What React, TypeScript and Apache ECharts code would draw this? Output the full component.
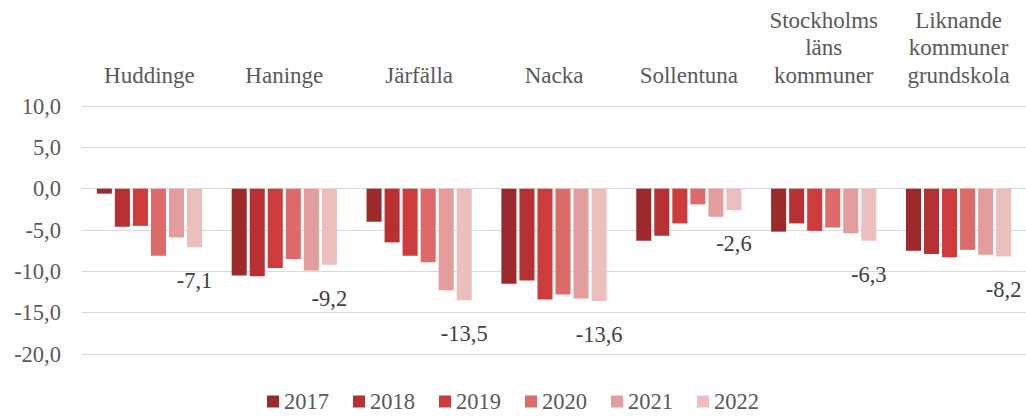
import React, { useEffect, useRef } from "react";
import * as echarts from "echarts";

const categories = [
  "Huddinge",
  "Haninge",
  "Järfälla",
  "Nacka",
  "Sollentuna",
  "Stockholms\nläns\nkommuner",
  "Liknande\nkommuner\ngrundskola",
];
const years = ["2017", "2018", "2019", "2020", "2021", "2022"];
const v2017 = [-0.6, -10.5, -4.0, -11.5, -6.3, -5.2, -7.5];
const v2018 = [-4.6, -10.6, -6.5, -11.1, -5.7, -4.2, -7.9];
const v2019 = [-4.5, -9.6, -8.1, -13.4, -4.2, -5.1, -8.3];
const v2020 = [-8.1, -8.5, -8.9, -12.8, -1.9, -4.7, -7.4];
const v2021 = [-5.9, -9.9, -12.3, -13.3, -3.4, -5.4, -8.0];
const v2022 = [-7.1, -9.2, -13.5, -13.6, -2.6, -6.3, -8.2];
const seriesValues = [v2017, v2018, v2019, v2020, v2021, v2022];
const colors = ["#9C2A2C", "#B73134", "#CD3B3C", "#DD6B6B", "#E39D9D", "#ECBFBF"];

const FONT = "'Liberation Serif', 'Times New Roman', serif";
const TXT = "#595959";
const fmt = (v: number) => v.toFixed(1).replace(".", ",");

export default function App() {
  const ref = useRef<HTMLDivElement>(null);
  useEffect(() => {
    if (!ref.current) return;
    const chart = echarts.init(ref.current, undefined, { renderer: "svg" });
    chart.setOption({
      animation: false,
      textStyle: { fontFamily: FONT },
      grid: { left: 82, right: 0, top: 106, bottom: 62 },
      legend: {
        bottom: -2,
        left: "center",
        itemWidth: 12,
        itemHeight: 12,
        itemGap: 24,
        icon: "rect",
        textStyle: { fontFamily: FONT, fontSize: 22.5, color: TXT },
        data: years,
      },
      xAxis: {
        type: "category",
        position: "top",
        data: categories,
        axisLine: { show: false },
        axisTick: { show: false },
        axisLabel: {
          interval: 0,
          margin: 17,
          fontFamily: FONT,
          fontSize: 23,
          color: TXT,
          lineHeight: 27.5,
        },
      },
      yAxis: {
        type: "value",
        min: -20,
        max: 10,
        interval: 5,
        axisLine: { show: false },
        axisTick: { show: false },
        splitLine: { lineStyle: { color: "#D9D9D9", width: 1 } },
        axisLabel: {
          margin: 21,
          fontFamily: FONT,
          fontSize: 22.5,
          color: TXT,
          formatter: (v: number) => fmt(v),
        },
      },
      series: years.map((y, i) => ({
        name: y,
        type: "bar",
        data: seriesValues[i],
        barGap: "20%",
        barCategoryGap: "22%",
        itemStyle: { color: colors[i] },
        label:
          i === years.length - 1
            ? {
                show: true,
                position: "bottom",
                distance: 22,
                fontFamily: FONT,
                fontSize: 22.5,
                color: "#404040",
                formatter: (p: any) => fmt(p.value),
              }
            : { show: false },
      })),
    });
    return () => chart.dispose();
  }, []);
  return (
    <div
      ref={ref}
      style={{ position: "fixed", left: 0, top: 0, width: 1026, height: 416, background: "#fff" }}
    />
  );
}
